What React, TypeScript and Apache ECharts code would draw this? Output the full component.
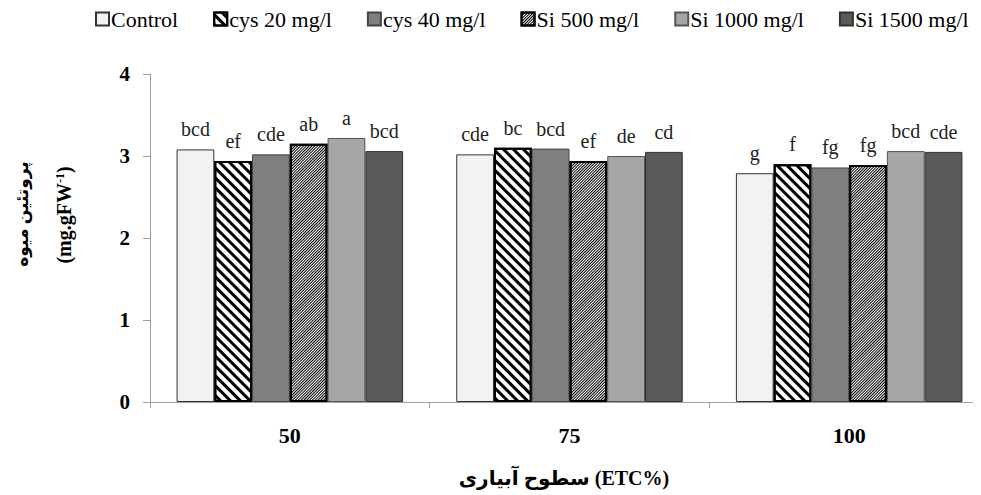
import React, { useEffect, useRef } from "react";
import * as echarts from "echarts";

const categories = ["50", "75", "100"];
const seriesNames = ["Control", "cys 20 mg/l", "cys 40 mg/l", "Si 500 mg/l", "Si 1000 mg/l", "Si 1500 mg/l"];
const control = [3.08, 3.02, 2.79];
const cys20 = [2.94, 3.1, 2.9];
const cys40 = [3.02, 3.09, 2.86];
const si500 = [3.15, 2.94, 2.89];
const si1000 = [3.22, 3.0, 3.06];
const si1500 = [3.06, 3.05, 3.05];
const lettersControl = ["bcd", "cde", "g"];
const lettersCys20 = ["ef", "bc", "f"];
const lettersCys40 = ["cde", "bcd", "fg"];
const lettersSi500 = ["ab", "ef", "fg"];
const lettersSi1000 = ["a", "de", "bcd"];
const lettersSi1500 = ["bcd", "cd", "cde"];
const yTicks = [0, 1, 2, 3, 4];
const yTitle = "پروتئین میوه";
const yUnit = "(mg.gFW";
const xTitle = "سطوح آبیاری (ETC%)";

const SERIF = "Liberation Serif";
const AR = "Liberation Serif, DejaVu Sans";

export default function App() {
  const ref = useRef<HTMLDivElement>(null);
  useEffect(() => {
    if (!ref.current) return;
    const chart = echarts.init(ref.current, undefined, { renderer: "svg" });
    const values = [control, cys20, cys40, si500, si1000, si1500];
    const letters = [lettersControl, lettersCys20, lettersCys40, lettersSi500, lettersSi1000, lettersSi1500];
    const styles: any[] = [
      { color: "#f2f2f2", borderColor: "#333", borderWidth: 1 },
      {
        color: "#ffffff",
        borderColor: "#000",
        borderWidth: 2,
        decal: { symbol: "rect", symbolSize: 1, dashArrayX: [1, 0], dashArrayY: [3, 4], rotation: Math.PI / 4, color: "#000" },
      },
      { color: "#7f7f7f", borderColor: "#444", borderWidth: 1 },
      {
        color: "#ffffff",
        borderColor: "#000",
        borderWidth: 2,
        decal: { symbol: "rect", symbolSize: 1, dashArrayX: [1, 0], dashArrayY: [1, 1], rotation: -Math.PI / 4, color: "#000" },
      },
      { color: "#a6a6a6", borderColor: "#555", borderWidth: 1 },
      { color: "#595959", borderColor: "#333", borderWidth: 1 },
    ];
    const series = values.map((v, i) => ({
      name: seriesNames[i],
      type: "bar",
      data: v,
      barGap: "0%",
      barCategoryGap: "19%",
      itemStyle: styles[i],
      label: {
        show: true,
        position: "top",
        distance: 10,
        color: "#222",
        fontFamily: SERIF,
        fontSize: 20,
        formatter: (p: any) => letters[i][p.dataIndex],
      },
    }));
    chart.setOption({
      animation: false,
      textStyle: { fontFamily: SERIF },
      legend: {
        data: seriesNames,
        left: 87,
        top: 0,
        padding: 0,
        itemWidth: 13,
        itemHeight: 13,
        itemGap: 35,
        icon: "rect",
        textStyle: { fontFamily: SERIF, fontSize: 22, color: "#000", padding: [0, 0, 0, -3] },
      },
      grid: { left: 142, top: 66, width: 841, height: 328, containLabel: false },
      xAxis: {
        type: "category",
        data: categories,
        axisLine: { lineStyle: { color: "#a0a0a0", width: 1 } },
        axisTick: { show: true, length: 6, lineStyle: { color: "#a0a0a0" } },
        axisLabel: { fontFamily: SERIF, fontWeight: "bold", fontSize: 22, color: "#000", margin: 22 },
      },
      yAxis: {
        type: "value",
        min: yTicks[0],
        max: yTicks[yTicks.length - 1],
        interval: 1,
        axisLine: { show: true, lineStyle: { color: "#a0a0a0", width: 1 } },
        axisTick: { show: true, length: 7, lineStyle: { color: "#a0a0a0" } },
        splitLine: { show: false },
        axisLabel: { fontFamily: SERIF, fontWeight: "bold", fontSize: 21, color: "#000", margin: 20 },
      },
      graphic: [
        {
          type: "text",
          x: 14,
          y: 206,
          rotation: Math.PI / 2,
          style: { text: yTitle, fontFamily: AR, fontWeight: "bold", fontSize: 17, fill: "#000", textAlign: "center", textVerticalAlign: "middle" },
        },
        {
          type: "text",
          x: 56,
          y: 207,
          rotation: Math.PI / 2,
          style: {
            text: "{m|" + yUnit + "}{s|-1}{m|)}",
            textAlign: "center",
            textVerticalAlign: "middle",
            rich: {
              m: { fontFamily: SERIF, fontWeight: "bold", fontSize: 20, fill: "#000", color: "#000" },
              s: { fontFamily: SERIF, fontWeight: "bold", fontSize: 12, fill: "#000", color: "#000", verticalAlign: "top", padding: [0, 0, 8, 0] },
            },
          },
        },
        {
          type: "text",
          x: 556,
          y: 470,
          style: { text: xTitle, fontFamily: AR, fontWeight: "bold", fontSize: 20, fill: "#000", textAlign: "center", textVerticalAlign: "middle" },
        },
      ],
      series,
    });
    return () => chart.dispose();
  }, []);
  return <div ref={ref} style={{ width: 981, height: 495 }} />;
}
